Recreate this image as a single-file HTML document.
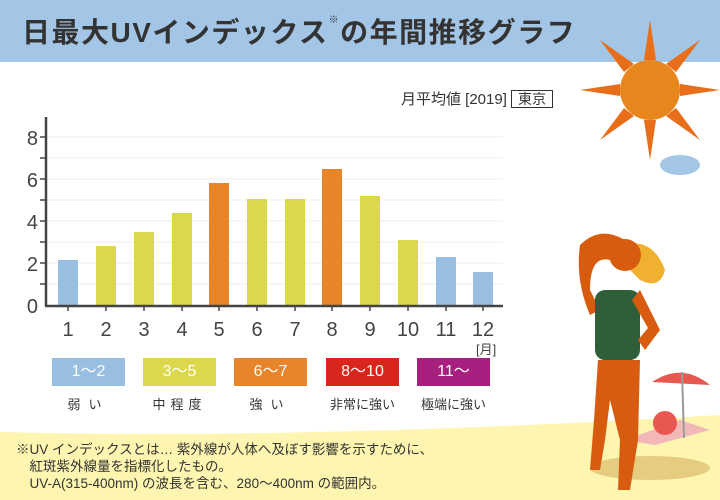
<!DOCTYPE html>
<html><head><meta charset="utf-8"><style>
body{margin:0;width:720px;height:500px;overflow:hidden;background:#fff;font-family:"Liberation Sans","Noto Sans CJK JP",sans-serif;position:relative;color:#333}
.t{position:absolute;white-space:nowrap}
</style></head><body>
<div style="position:absolute;left:0;top:0;width:720px;height:62px;background:#a3c6e6"></div>
<div class="t" style="left:22px;top:11px;font-size:28px;font-weight:bold;color:#333;letter-spacing:1.5px">日最大UVインデックス<span style="font-size:10px;vertical-align:top">※</span>の年間推移グラフ</div>
<svg width="720" height="500" style="position:absolute;left:0;top:0">
<path d="M0 432 Q300 440 720 415 L720 500 L0 500Z" fill="#fdf5b0"/>
<g fill="#e86e1a">
<polygon points="650,20 656,60 644,60"/><polygon points="650,160 656,120 644,120"/>
<polygon points="580,90 620,84 620,96"/><polygon points="720,90 680,84 680,96"/>
<polygon points="600,40 634,64 624,72"/><polygon points="700,140 666,116 676,108"/>
<polygon points="700,40 676,72 666,64"/><polygon points="600,140 624,108 634,116"/>
</g>
<circle cx="650" cy="90" r="30" fill="#e8861e"/>
<g fill="#a3c6e6"><ellipse cx="610" cy="20" rx="18" ry="8"/><ellipse cx="680" cy="165" rx="20" ry="10"/></g>
<g stroke="#eee" stroke-width="1">
<line x1="46" y1="137" x2="503" y2="137"/><line x1="46" y1="158" x2="503" y2="158"/><line x1="46" y1="179" x2="503" y2="179"/><line x1="46" y1="200" x2="503" y2="200"/><line x1="46" y1="221" x2="503" y2="221"/><line x1="46" y1="242" x2="503" y2="242"/><line x1="46" y1="263" x2="503" y2="263"/><line x1="46" y1="284" x2="503" y2="284"/>
</g>
<g>
<rect x="58" y="260" width="20" height="45" fill="#98bfe2"/>
<rect x="96" y="246" width="20" height="59" fill="#dbd84b"/>
<rect x="134" y="232" width="20" height="73" fill="#dbd84b"/>
<rect x="172" y="213" width="20" height="92" fill="#dbd84b"/>
<rect x="209" y="183" width="20" height="122" fill="#e8842a"/>
<rect x="247" y="199" width="20" height="106" fill="#dbd84b"/>
<rect x="285" y="199" width="20" height="106" fill="#dbd84b"/>
<rect x="322" y="169" width="20" height="136" fill="#e8842a"/>
<rect x="360" y="196" width="20" height="109" fill="#dbd84b"/>
<rect x="398" y="240" width="20" height="65" fill="#dbd84b"/>
<rect x="436" y="257" width="20" height="48" fill="#98bfe2"/>
<rect x="473" y="272" width="20" height="33" fill="#98bfe2"/>
</g>
<g stroke="#444" stroke-width="2.5"><line x1="46" y1="117" x2="46" y2="306"/><line x1="45" y1="306" x2="503" y2="306"/></g>
<g stroke="#444" stroke-width="1.5">
<line x1="40" y1="137" x2="46" y2="137"/><line x1="40" y1="158" x2="46" y2="158"/><line x1="40" y1="179" x2="46" y2="179"/><line x1="40" y1="200" x2="46" y2="200"/><line x1="40" y1="221" x2="46" y2="221"/><line x1="40" y1="242" x2="46" y2="242"/><line x1="40" y1="263" x2="46" y2="263"/><line x1="40" y1="284" x2="46" y2="284"/>
<line x1="68" y1="306" x2="68" y2="311"/><line x1="106" y1="306" x2="106" y2="311"/><line x1="144" y1="306" x2="144" y2="311"/><line x1="182" y1="306" x2="182" y2="311"/><line x1="219" y1="306" x2="219" y2="311"/><line x1="257" y1="306" x2="257" y2="311"/><line x1="295" y1="306" x2="295" y2="311"/><line x1="332" y1="306" x2="332" y2="311"/><line x1="370" y1="306" x2="370" y2="311"/><line x1="408" y1="306" x2="408" y2="311"/><line x1="446" y1="306" x2="446" y2="311"/><line x1="483" y1="306" x2="483" y2="311"/>
</g>
<g font-size="20" fill="#444" text-anchor="end" font-family="Liberation Sans">
<text x="38" y="145">8</text><text x="38" y="187">6</text><text x="38" y="229">4</text><text x="38" y="271">2</text><text x="38" y="313">0</text>
</g>
<g font-size="20" fill="#444" text-anchor="middle" font-family="Liberation Sans">
<text x="68" y="336">1</text><text x="106" y="336">2</text><text x="144" y="336">3</text><text x="182" y="336">4</text><text x="219" y="336">5</text><text x="257" y="336">6</text><text x="295" y="336">7</text><text x="332" y="336">8</text><text x="370" y="336">9</text><text x="408" y="336">10</text><text x="446" y="336">11</text><text x="483" y="336">12</text>
</g>
<ellipse cx="650" cy="468" rx="60" ry="12" fill="#e6cc7e"/>
<polygon points="625,440 680,420 710,430 655,445" fill="#f2b8b8"/>
<path d="M652 382 Q682 362 710 385Z" fill="#e85850"/>
<line x1="682" y1="372" x2="684" y2="438" stroke="#999" stroke-width="2"/>
<circle cx="665" cy="423" r="12" fill="#e85850"/>
<path d="M610 250 Q650 230 665 270 Q660 290 640 280Z" fill="#f0b030"/>
<circle cx="625" cy="255" r="16" fill="#d85c10"/>
<path d="M580 245 Q600 225 625 240 L610 260 Q590 255 590 290 L600 310 L590 315 Q575 280 580 245Z" fill="#d85c10"/>
<rect x="595" y="290" width="45" height="70" rx="10" fill="#2f5e3a"/>
<path d="M640 290 L660 330 L645 350 L638 340 L648 328 L632 300Z" fill="#d85c10"/>
<path d="M598 360 L640 360 L638 440 L630 490 L618 490 L620 440 L610 400 L605 440 L600 470 L590 470 L594 420Z" fill="#d85c10"/>
</svg>
<div class="t" style="left:401px;top:88px;font-size:15px;color:#333">月平均値 [2019] <span style="border:1px solid #333;padding:0 6px;font-size:14px">東京</span></div>
<div class="t" style="left:476px;top:339px;font-size:13px;color:#444">[月]</div>
<div class="t" style="left:52px;top:358px;width:73px;height:28px;background:#98bfe2;color:#fff;font-size:16px;text-align:center;line-height:28px">1〜2</div>
<div class="t" style="left:143px;top:358px;width:73px;height:28px;background:#dbd84b;color:#fff;font-size:16px;text-align:center;line-height:28px">3〜5</div>
<div class="t" style="left:234px;top:358px;width:73px;height:28px;background:#e8842a;color:#fff;font-size:16px;text-align:center;line-height:28px">6〜7</div>
<div class="t" style="left:326px;top:358px;width:73px;height:28px;background:#d9261c;color:#fff;font-size:16px;text-align:center;line-height:28px">8〜10</div>
<div class="t" style="left:417px;top:358px;width:73px;height:28px;background:#a8207f;color:#fff;font-size:16px;text-align:center;line-height:28px">11〜</div>
<div class="t" style="left:52px;top:394px;width:73px;text-align:center;font-size:13px;letter-spacing:8px">弱い</div>
<div class="t" style="left:143px;top:394px;width:73px;text-align:center;font-size:13px;letter-spacing:5px">中程度</div>
<div class="t" style="left:234px;top:394px;width:73px;text-align:center;font-size:13px;letter-spacing:8px">強い</div>
<div class="t" style="left:326px;top:394px;width:73px;text-align:center;font-size:13px">非常に強い</div>
<div class="t" style="left:417px;top:394px;width:73px;text-align:center;font-size:13px">極端に強い</div>
<div class="t" style="left:16px;top:441px;font-size:13.5px;line-height:17px;color:#333">※UV インデックスとは… 紫外線が人体へ及ぼす影響を示すために、<br>　紅斑紫外線量を指標化したもの。<br>　UV-A(315-400nm) の波長を含む、280〜400nm の範囲内。</div>
</body></html>
